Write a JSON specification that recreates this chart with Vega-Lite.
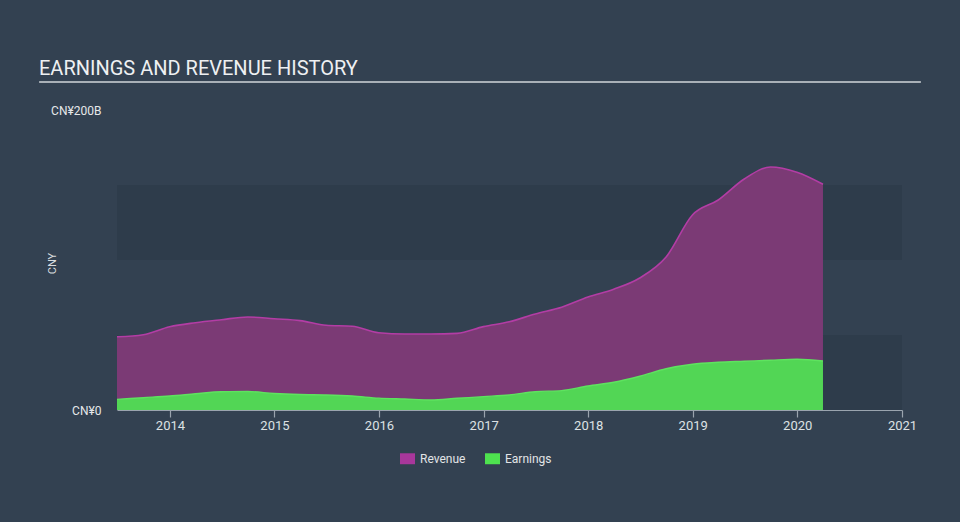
{
  "$schema": "https://vega.github.io/schema/vega-lite/v6.json",
  "width": 785,
  "height": 300,
  "autosize": "none",
  "padding": {"left": 117, "top": 110, "right": 58, "bottom": 112},
  "background": "#334151",
  "config": {"view": {"stroke": null}, "font": "Roboto"},
  "title": {
    "text": "EARNINGS AND REVENUE HISTORY",
    "anchor": "start",
    "frame": "group",
    "dx": -78,
    "offset": 2,
    "fontSize": 20,
    "font": "Roboto",
    "fontWeight": "normal",
    "color": "#eef0f2"
  },
  "datasets": {
    "bands": [{"lo": 0, "hi": 50}, {"lo": 100, "hi": 150}],
    "legendrows": [],
    "fin": [
      {"date": "2013-06-30", "revenue": 48.8, "earnings": 7.1},
      {"date": "2013-09-30", "revenue": 50.2, "earnings": 8.2},
      {"date": "2013-12-31", "revenue": 55.5, "earnings": 9.3},
      {"date": "2014-03-31", "revenue": 58.2, "earnings": 10.8},
      {"date": "2014-06-30", "revenue": 60.2, "earnings": 12.2},
      {"date": "2014-09-30", "revenue": 62.0, "earnings": 12.3},
      {"date": "2014-12-31", "revenue": 60.8, "earnings": 11.0},
      {"date": "2015-03-31", "revenue": 59.6, "earnings": 10.3},
      {"date": "2015-06-30", "revenue": 56.5, "earnings": 10.0},
      {"date": "2015-09-30", "revenue": 55.8, "earnings": 9.3},
      {"date": "2015-12-31", "revenue": 51.5, "earnings": 7.9},
      {"date": "2016-03-31", "revenue": 50.7, "earnings": 7.3},
      {"date": "2016-06-30", "revenue": 50.7, "earnings": 6.7},
      {"date": "2016-09-30", "revenue": 51.1, "earnings": 7.8},
      {"date": "2016-12-31", "revenue": 55.6, "earnings": 8.9},
      {"date": "2017-03-31", "revenue": 58.8, "earnings": 10.0},
      {"date": "2017-06-30", "revenue": 64.0, "earnings": 12.2},
      {"date": "2017-09-30", "revenue": 68.5, "earnings": 12.9},
      {"date": "2017-12-31", "revenue": 75.3, "earnings": 16.0},
      {"date": "2018-03-31", "revenue": 80.5, "earnings": 18.5},
      {"date": "2018-06-30", "revenue": 88.0, "earnings": 22.5},
      {"date": "2018-09-30", "revenue": 102.0, "earnings": 27.5},
      {"date": "2018-12-31", "revenue": 130.0, "earnings": 30.5},
      {"date": "2019-03-31", "revenue": 140.0, "earnings": 31.8},
      {"date": "2019-06-30", "revenue": 154.0, "earnings": 32.5},
      {"date": "2019-09-30", "revenue": 162.0, "earnings": 33.2},
      {"date": "2019-12-31", "revenue": 158.5, "earnings": 33.8},
      {"date": "2020-03-31", "revenue": 150.5, "earnings": 32.7}
    ]
  },
  "layer": [
    {
      "data": {"name": "bands"},
      "mark": {"type": "rect", "color": "#2e3c4b"},
      "encoding": {
        "y": {
          "field": "lo",
          "type": "quantitative",
          "title": "CNY",
          "scale": {"domain": [0, 200], "nice": false, "zero": true},
          "axis": {
            "values": [0, 200],
            "labelExpr": "datum.value == 0 ? 'CN¥0' : 'CN¥200B'",
            "domain": false,
            "ticks": false,
            "grid": false,
            "labelPadding": 16,
            "labelFont": "Roboto",
            "labelFontSize": 12,
            "labelColor": "#e6e8ea",
            "titleFont": "Roboto",
            "titleFontSize": 11,
            "titleFontWeight": "normal",
            "titleColor": "#d8dcdf",
            "titleX": -65,
            "titleY": 153,
            "titleAngle": -90,
            "titleAlign": "center",
            "titleBaseline": "middle"
          }
        },
        "y2": {"field": "hi"}
      }
    },
    {
      "data": {"name": "fin"},
      "mark": {"type": "area", "interpolate": "monotone", "color": "#7b3a75"},
      "encoding": {
        "x": {
          "field": "date",
          "type": "temporal",
          "title": null,
          "scale": {"domain": [{"year": 2013, "month": 6, "date": 30}, {"year": 2021, "month": 1, "date": 1}], "nice": false},
          "axis": {
            "values": [
              {"year": 2014, "month": 1, "date": 1},
              {"year": 2015, "month": 1, "date": 1},
              {"year": 2016, "month": 1, "date": 1},
              {"year": 2017, "month": 1, "date": 1},
              {"year": 2018, "month": 1, "date": 1},
              {"year": 2019, "month": 1, "date": 1},
              {"year": 2020, "month": 1, "date": 1},
              {"year": 2021, "month": 1, "date": 1}
            ],
            "format": "%Y",
            "grid": false,
            "domainColor": "#9aa4ae",
            "domainWidth": 1.2,
            "tickColor": "#9aa4ae",
            "tickSize": 7,
            "tickWidth": 1.2,
            "labelPadding": 2,
            "labelFont": "Roboto",
            "labelFontSize": 13,
            "labelColor": "#dde1e4",
            "labelFlush": false
          }
        },
        "y": {"field": "revenue", "type": "quantitative", "title": "CNY", "scale": {"domain": [0, 200], "nice": false}}
      }
    },
    {
      "data": {"name": "fin"},
      "mark": {"type": "line", "interpolate": "monotone", "stroke": "#b33da5", "strokeWidth": 1.6},
      "encoding": {
        "x": {"field": "date", "type": "temporal", "title": null, "scale": {"domain": [{"year": 2013, "month": 6, "date": 30}, {"year": 2021, "month": 1, "date": 1}], "nice": false}},
        "y": {"field": "revenue", "type": "quantitative", "title": "CNY", "scale": {"domain": [0, 200], "nice": false}}
      }
    },
    {
      "data": {"name": "fin"},
      "mark": {"type": "area", "interpolate": "monotone", "color": "#52d655"},
      "encoding": {
        "x": {"field": "date", "type": "temporal", "title": null, "scale": {"domain": [{"year": 2013, "month": 6, "date": 30}, {"year": 2021, "month": 1, "date": 1}], "nice": false}},
        "y": {"field": "earnings", "type": "quantitative", "title": "CNY", "scale": {"domain": [0, 200], "nice": false}}
      }
    },
    {
      "data": {"name": "fin"},
      "mark": {"type": "line", "interpolate": "monotone", "stroke": "#5ee35f", "strokeWidth": 1.4},
      "encoding": {
        "x": {"field": "date", "type": "temporal", "title": null, "scale": {"domain": [{"year": 2013, "month": 6, "date": 30}, {"year": 2021, "month": 1, "date": 1}], "nice": false}},
        "y": {"field": "earnings", "type": "quantitative", "title": "CNY", "scale": {"domain": [0, 200], "nice": false}}
      }
    },
    {
      "data": {"name": "legendrows"},
      "mark": {"type": "point", "filled": true, "opacity": 1, "shape": "M-1,-0.73H1V0.73H-1Z", "size": 225},
      "encoding": {
        "x": {"field": "date", "type": "temporal", "title": null, "scale": {"domain": [{"year": 2013, "month": 6, "date": 30}, {"year": 2021, "month": 1, "date": 1}], "nice": false}},
        "y": {"field": "value", "type": "quantitative", "title": "CNY", "scale": {"domain": [0, 200], "nice": false}},
        "color": {
          "field": "series",
          "type": "nominal",
          "scale": {"domain": ["Revenue", "Earnings"], "range": ["#a8379b", "#4ee24f"]},
          "legend": {
            "title": null,
            "orient": "none",
            "direction": "horizontal",
            "legendX": 283,
            "legendY": 341,
            "padding": 0,
            "symbolType": "M-1,-0.73H1V0.73H-1Z",
            "symbolSize": 225,
            "symbolStrokeWidth": 0,
            "symbolOpacity": 1,
            "labelFont": "Roboto",
            "labelFontSize": 12,
            "labelColor": "#e2e4e6",
            "labelOffset": 5,
            "columnPadding": 19
          }
        }
      }
    },
    {
      "data": {"values": [{}]},
      "mark": {"type": "rule", "stroke": "#a9b0b7", "strokeWidth": 2, "clip": false},
      "encoding": {
        "x": {"datum": {"year": 2012, "month": 10, "date": 1}, "type": "temporal", "scale": {"domain": [{"year": 2013, "month": 6, "date": 30}, {"year": 2021, "month": 1, "date": 1}], "nice": false}},
        "x2": {"datum": {"year": 2021, "month": 3, "date": 8}},
        "y": {"datum": 218.7, "type": "quantitative", "scale": {"domain": [0, 200], "nice": false}}
      }
    }
  ]
}
